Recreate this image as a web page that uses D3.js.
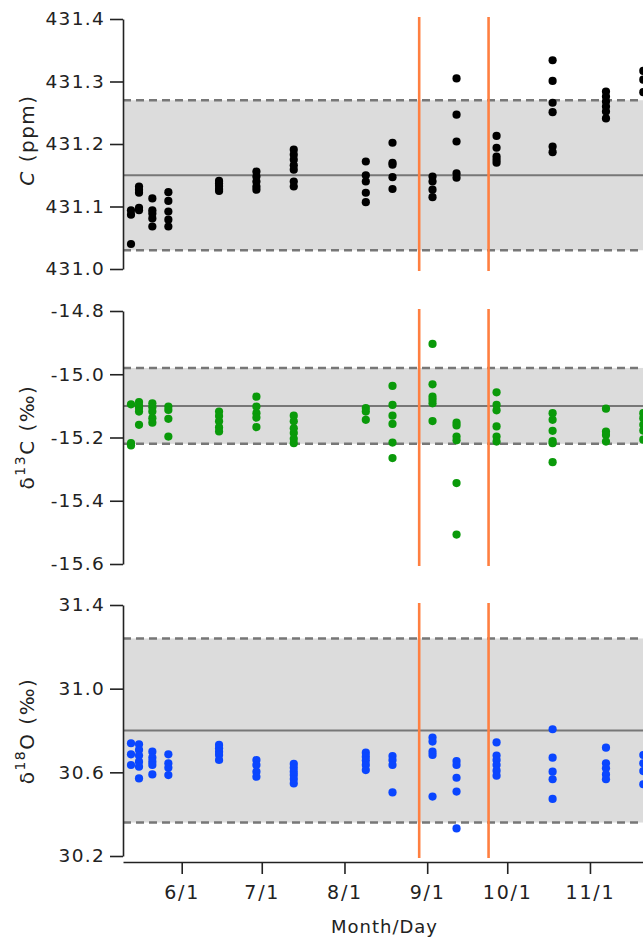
<!doctype html>
<html lang="en">
<head>
  <meta charset="utf-8">
  <title>C, d13C, d18O by date</title>
  <style>
    body { margin: 0; background: #fff; }
    svg { display: block; }
  </style>
</head>
<body>
<script src="https://d3js.org/d3.v7.min.js"></script>
<script>
  //Width and height
  var w = 643;
  var h = 939;

  // sampling dates (one column of dots per date)
  var dates = ["2023-05-13", "2023-05-16", "2023-05-21", "2023-05-27", "2023-06-15",
               "2023-06-29", "2023-07-13", "2023-08-09", "2023-08-19", "2023-09-03",
               "2023-09-12", "2023-09-27", "2023-10-18", "2023-11-07", "2023-11-21"];

  // C (ppm)
  var cppm = [
    [431.094, 431.087, 431.040],
    [431.132, 431.127, 431.122, 431.098, 431.094],
    [431.113, 431.094, 431.089, 431.081, 431.068],
    [431.123, 431.109, 431.092, 431.079, 431.068],
    [431.141, 431.137, 431.133, 431.128, 431.125],
    [431.156, 431.148, 431.140, 431.132, 431.127],
    [431.191, 431.183, 431.175, 431.166, 431.159, 431.140, 431.132],
    [431.172, 431.150, 431.140, 431.122, 431.107],
    [431.202, 431.170, 431.167, 431.147, 431.128],
    [431.148, 431.140, 431.127, 431.115],
    [431.305, 431.247, 431.204, 431.153, 431.146],
    [431.213, 431.194, 431.180, 431.175, 431.170],
    [431.334, 431.301, 431.266, 431.251, 431.196, 431.187],
    [431.284, 431.276, 431.268, 431.260, 431.252, 431.241],
    [431.317, 431.303, 431.283]
  ];

  // d13C (permil)
  var d13c = [
    [-15.095, -15.218, -15.225],
    [-15.088, -15.099, -15.107, -15.118, -15.160],
    [-15.092, -15.104, -15.118, -15.139, -15.153],
    [-15.102, -15.113, -15.141, -15.197],
    [-15.118, -15.132, -15.149, -15.168, -15.181],
    [-15.071, -15.102, -15.123, -15.137, -15.167],
    [-15.131, -15.149, -15.171, -15.186, -15.204, -15.218],
    [-15.107, -15.118, -15.144],
    [-15.037, -15.097, -15.131, -15.157, -15.216, -15.265],
    [-14.904, -15.032, -15.071, -15.081, -15.092, -15.148],
    [-15.153, -15.162, -15.197, -15.209, -15.344, -15.507],
    [-15.057, -15.097, -15.114, -15.165, -15.197, -15.213],
    [-15.123, -15.144, -15.179, -15.211, -15.218, -15.278],
    [-15.109, -15.181, -15.192, -15.213],
    [-15.123, -15.139, -15.160, -15.178, -15.207]
  ];

  // d18O (permil)
  var d18o = [
    [30.739, 30.686, 30.635],
    [30.734, 30.707, 30.680, 30.651, 30.627, 30.571],
    [30.699, 30.670, 30.651, 30.635, 30.590],
    [30.686, 30.643, 30.622, 30.587],
    [30.731, 30.715, 30.699, 30.683, 30.659],
    [30.659, 30.635, 30.603, 30.579],
    [30.640, 30.622, 30.603, 30.587, 30.568, 30.547],
    [30.694, 30.675, 30.656, 30.635, 30.611],
    [30.678, 30.659, 30.635, 30.504],
    [30.766, 30.747, 30.699, 30.683, 30.484],
    [30.654, 30.635, 30.574, 30.508, 30.332],
    [30.743, 30.680, 30.659, 30.635, 30.608, 30.584],
    [30.806, 30.670, 30.603, 30.567, 30.473],
    [30.718, 30.643, 30.619, 30.590, 30.567],
    [30.683, 30.643, 30.606, 30.543]
  ];

  // reference band: [lower, mean, upper]
  var cBand = [431.03, 431.15, 431.27];
  var d13cBand = [-15.22, -15.10, -14.98];
  var d18oBand = [30.36, 30.80, 31.24];

  // vertical event lines
  var events = ["2023-08-29", "2023-09-24"];

  // tick values
  var cTicks = [431.0, 431.1, 431.2, 431.3, 431.4];
  var d13cTicks = [-15.6, -15.4, -15.2, -15.0, -14.8];
  var d18oTicks = [30.2, 30.6, 31.0, 31.4];
  var xTicks = ["2023-06-01", "2023-07-01", "2023-08-01", "2023-09-01", "2023-10-01", "2023-11-01"];

  var font = "'DejaVu Sans', sans-serif";
  var parse = d3.utcParse("%Y-%m-%d");

  //Create SVG
  var svg = d3.select("body")
    .append("svg")
    .attr("width", w)
    .attr("height", h);

  var left = 123, right = 646;

  var x = d3.scaleUtc()
    .domain([parse("2023-05-10"), parse("2023-11-22")])
    .range([left, right]);

  var panels = [
    { vals: cppm, band: cBand, ticks: cTicks, domain: [431.0, 431.4], top: 19, bottom: 269, color: "#000000" },
    { vals: d13c, band: d13cBand, ticks: d13cTicks, domain: [-15.6, -14.8], top: 311, bottom: 564, color: "#0a9a0a" },
    { vals: d18o, band: d18oBand, ticks: d18oTicks, domain: [30.2, 31.4], top: 605, bottom: 856, color: "#0a46ff" }
  ];

  var fmt = d3.format(".1f");

  panels.forEach(function(p) {
    var y = d3.scaleLinear().domain(p.domain).range([p.bottom, p.top]);
    var g = svg.append("g");

    // grey band
    g.append("rect")
      .attr("x", left)
      .attr("y", y(p.band[2]))
      .attr("width", right - left)
      .attr("height", y(p.band[0]) - y(p.band[2]))
      .style("fill", "#dcdcdc");

    // dashed limits
    g.selectAll("line.lim")
      .data([p.band[0], p.band[2]])
      .enter()
      .append("line")
      .attr("class", "lim")
      .attr("x1", left).attr("x2", right)
      .attr("y1", function(d) { return y(d); })
      .attr("y2", function(d) { return y(d); })
      .style("stroke", "#777")
      .style("stroke-width", 2.5)
      .style("stroke-dasharray", "8,5");

    // mean line
    g.append("line")
      .attr("x1", left).attr("x2", right)
      .attr("y1", y(p.band[1])).attr("y2", y(p.band[1]))
      .style("stroke", "#777")
      .style("stroke-width", 2);

    // orange event lines
    g.selectAll("line.ev")
      .data(events)
      .enter()
      .append("line")
      .attr("class", "ev")
      .attr("x1", function(d) { return x(parse(d)); })
      .attr("x2", function(d) { return x(parse(d)); })
      .attr("y1", p.top - 2).attr("y2", p.bottom + 2)
      .style("stroke", "#ff7f40")
      .style("stroke-width", 2.6);

    // dots
    var pts = [];
    p.vals.forEach(function(col, i) {
      col.forEach(function(v) { pts.push({ date: parse(dates[i]), v: v }); });
    });
    g.selectAll("circle")
      .data(pts)
      .enter()
      .append("circle")
      .attr("cx", function(d) { return x(d.date); })
      .attr("cy", function(d) { return y(d.v); })
      .attr("r", 4.1)
      .style("fill", p.color);

    // left axis
    var ax = g.append("g")
      .attr("transform", "translate(" + left + ",0)")
      .call(d3.axisLeft(y)
        .tickValues(p.ticks)
        .tickSize(13)
        .tickSizeOuter(0)
        .tickPadding(5)
        .tickFormat(function(d) { return fmt(d).replace("\u2212", "-"); }));
    ax.select(".domain").style("stroke", "#222").style("stroke-width", 1.6);
    ax.selectAll(".tick line").style("stroke", "#222").style("stroke-width", 1.6);
    ax.selectAll("text")
      .style("font-family", font)
      .style("font-size", "18.5px")
      .style("letter-spacing", "1.3px")
      .style("fill", "#222");
  });

  // bottom axis
  var xa = svg.append("g")
    .attr("transform", "translate(0,862)")
    .call(d3.axisBottom(x)
      .tickValues(xTicks.map(parse))
      .tickSize(12)
      .tickSizeOuter(0)
      .tickPadding(12)
      .tickFormat(d3.utcFormat("%-m/%-d")));
  xa.select(".domain").style("stroke", "#222").style("stroke-width", 1.6);
  xa.selectAll(".tick line").style("stroke", "#222").style("stroke-width", 1.6);
  xa.selectAll("text")
    .style("font-family", font)
    .style("font-size", "19px")
    .style("letter-spacing", "1.8px")
    .style("fill", "#222");

  svg.append("text")
    .attr("x", (left + right) / 2)
    .attr("y", 933)
    .attr("text-anchor", "middle")
    .style("font-family", font)
    .style("font-size", "18px")
    .style("letter-spacing", "1px")
    .style("fill", "#222")
    .text("Month/Day");

  // y titles
  var t1 = svg.append("text")
    .attr("transform", "translate(34,140) rotate(-90)")
    .attr("text-anchor", "middle")
    .style("font-family", font)
    .style("font-size", "20px")
    .style("letter-spacing", "1.5px")
    .style("fill", "#222");
  t1.append("tspan").style("font-style", "italic").text("C");
  t1.append("tspan").text(" (ppm)");

  function isoTitle(cy, sup, el) {
    var t = svg.append("text")
      .attr("transform", "translate(34," + cy + ") rotate(-90)")
      .attr("text-anchor", "middle")
      .style("font-family", font)
      .style("font-size", "20px")
      .style("letter-spacing", "1.5px")
      .style("fill", "#222");
    t.append("tspan").text("\u03b4");
    t.append("tspan").attr("dy", -9).style("font-size", "14px").text(sup);
    t.append("tspan").attr("dy", 9).text(el + " (\u2030)");
  }
  isoTitle(437, "13", "C");
  isoTitle(731, "18", "O");
</script>
</body>
</html>
